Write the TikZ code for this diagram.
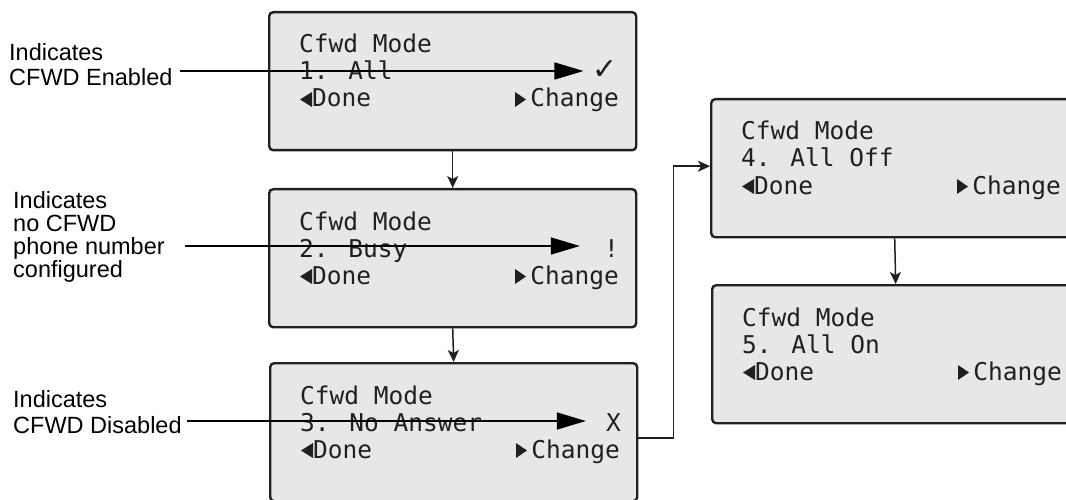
\documentclass[tikz,border=0pt]{standalone}
\usepackage{fontspec}
\setmainfont{Liberation Sans}
\newfontfamily\monof{DejaVu Sans Mono}
\newfontfamily\symf{DejaVu Sans}
\usetikzlibrary{arrows.meta}
\definecolor{ink}{HTML}{231F20}
\definecolor{lcd}{HTML}{E6E7E8}
\tikzset{
  scr/.style={draw=ink, fill=lcd, line width=2.4pt, rounded corners=4pt,
    minimum width=367pt, minimum height=138pt, anchor=north west, inner sep=0pt},
  mono/.style={font=\monof\fontsize{24.5}{27}\selectfont, text=ink, inner sep=0pt, anchor=base west},
  lbl/.style={align=left, inner sep=0pt, anchor=base west, text=black},
  conn/.style={draw=ink, line width=1.5pt, -{Stealth[length=12pt,width=11pt,inset=3pt]}},
  ind/.style={draw=black, line width=1.5pt, -{Triangle[length=29pt,width=17pt]}},
}
\newcommand\cfwdscreen[3]{%
  \begin{scope}[shift={#2}]
    \node[scr] (#1) at (0,0) {};
    \node[mono] (#1-title) at (31,42) {Cfwd Mode};
    \node[mono] (#1-item) at (31,69) {#3};
    \fill[ink] (32,88.5) -- (44,81) -- (44,96) -- cycle;
    \node[mono] (#1-done) at (44,96) {Done};
    \fill[ink] (247,81) -- (258,88.5) -- (247,96) -- cycle;
    \node[mono, anchor=base east] (#1-change) at (351,96) {Change};
  \end{scope}}
\begin{document}
\begin{tikzpicture}[x=1pt,y=-1pt]
  \useasboundingbox (0,0) rectangle (1066,500);
  \clip (0,0) rectangle (1066,500);
  \fill[white] (0,0) rectangle (1066,500);

  % screens
  \cfwdscreen{b1}{(268,11)}{1. All}
  \cfwdscreen{b2}{(268,188)}{2. Busy}
  \cfwdscreen{b3}{(269,362)}{3. No Answer}
  \cfwdscreen{b4}{(710,98)}{4. All Off}
  \cfwdscreen{b5}{(711,284)}{5. All On}

  % status markers
  \node[font=\symf\fontsize{30}{30}\selectfont, text=ink, anchor=base east, inner sep=0pt] (m1) at (618,80) {✓};
  \node[mono, anchor=base east] (m2) at (619,257) {!};
  \node[mono, anchor=base east] (m3) at (621,431) {X};

  % labels (base anchor = last line)
  \node[lbl, font=\fontsize{23.5}{25}\selectfont] (l1) at (9,86) {Indicates\\CFWD Enabled};
  \node[lbl, font=\fontsize{23.5}{23}\selectfont] (l2) at (13,277) {Indicates\\no CFWD\\phone number\\configured};
  \node[lbl, font=\fontsize{23.5}{26}\selectfont] (l3) at (13,433) {Indicates\\CFWD Disabled};

  % indicator arrows
  \coordinate (s1) at (180,71);
  \coordinate (s2) at (185,246);
  \coordinate (s3) at (187,421);
  \draw[ind, shorten >=9pt] (s1) -- (s1 -| m1.west);
  \draw[ind, shorten >=24pt] (s2) -- (s2 -| m2.west);
  \draw[ind, shorten >=20pt] (s3) -- (s3 -| m3.west);

  % flow connectors
  \draw[conn] (b1.south) -- (b2.north);
  \draw[conn] (b2.south) -- (b3.north);
  \draw[conn] ([yshift=-6pt]b3.east) -- ++(35,0) |- ([yshift=2pt]b4.west);
  \draw[conn] (b4.south) -- (b5.north);
\end{tikzpicture}
\end{document}
